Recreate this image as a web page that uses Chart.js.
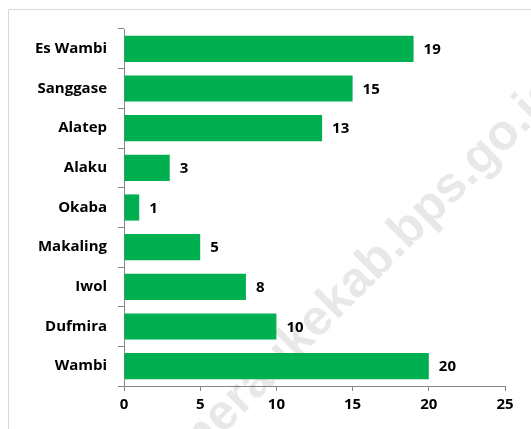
<!DOCTYPE html>
<html>
<head>
<meta charset="utf-8">
<script src="https://cdn.jsdelivr.net/npm/chart.js@4.4.1/dist/chart.umd.min.js"></script>
<style>
  html, body { margin: 0; padding: 0; background: #fff; }
  #wrap { position: relative; width: 531px; height: 429px; }
</style>
</head>
<body>
<div id="wrap"><canvas id="distrikChart" width="531" height="429"></canvas></div>
<script>
// ## DISTRIK BAR CHART ##

const districts = ["Es Wambi", "Sanggase", "Alatep", "Alaku", "Okaba", "Makaling", "Iwol", "Dufmira", "Wambi"];
const counts = [19, 15, 13, 3, 1, 5, 8, 10, 20];
const xTicks = [0, 5, 10, 15, 20, 25];
const watermarkText = "meraukekab.bps.go.id";

const axisColor = "#868686";
const labelFont = { family: "Open Sans", size: 15, weight: "bold" };

// outer frame + watermark (drawn under the bars)
const backdrop = {
  id: "backdrop",
  beforeDatasetsDraw(chart) {
    const ctx = chart.ctx;
    ctx.save();
    ctx.strokeStyle = "#d9d9d9";
    ctx.lineWidth = 1;
    ctx.beginPath();
    ctx.moveTo(8.5, 440);
    ctx.lineTo(8.5, 9.5);
    ctx.lineTo(540, 9.5);
    ctx.stroke();

    ctx.translate(368, 270);
    ctx.rotate(-Math.PI / 4);
    ctx.fillStyle = "rgba(0, 0, 0, 0.09)";
    ctx.font = "bold 50px 'Liberation Sans'";
    ctx.textAlign = "center";
    ctx.textBaseline = "middle";
    ctx.fillText(watermarkText, 0, 0);
    ctx.restore();
  },
};

// value labels at the end of each bar
const valueLabels = {
  id: "valueLabels",
  afterDatasetsDraw(chart) {
    const ctx = chart.ctx;
    const meta = chart.getDatasetMeta(0);
    ctx.save();
    ctx.fillStyle = "#000";
    ctx.font = "bold 15px 'Open Sans'";
    ctx.textAlign = "left";
    ctx.textBaseline = "middle";
    meta.data.forEach((bar, i) => {
      ctx.fillText(String(counts[i]), bar.x + 10, bar.y + 1);
    });
    ctx.restore();
  },
};

const ctx = document.getElementById("distrikChart").getContext("2d");

window.distrikChart = new Chart(ctx, {
  type: "bar",
  data: {
    labels: districts,
    datasets: [
      {
        label: "Jumlah",
        data: counts,
        backgroundColor: "#00B050",
        borderWidth: 0,
        categoryPercentage: 1,
        barPercentage: 0.66,
      },
    ],
  },
  options: {
    indexAxis: "y",
    responsive: false,
    animation: false,
    layout: {
      padding: { top: 29, right: 26, left: 0, bottom: 0 },
    },
    plugins: {
      legend: { display: false },
      tooltip: { enabled: false },
    },
    scales: {
      x: {
        min: 0,
        max: 25,
        afterBuildTicks: (scale) => {
          scale.ticks = xTicks.map((v) => ({ value: v }));
        },
        afterFit: (scale) => {
          scale.height = 43;
        },
        ticks: {
          color: "#000",
          font: labelFont,
          padding: 5,
        },
        grid: {
          drawOnChartArea: false,
          drawTicks: true,
          tickLength: 5,
          color: axisColor,
        },
        border: { display: true, color: axisColor },
      },
      y: {
        afterFit: (scale) => {
          scale.width = 124;
        },
        ticks: {
          color: "#000",
          font: labelFont,
          padding: 11,
        },
        grid: {
          offset: true,
          drawOnChartArea: false,
          drawTicks: true,
          tickLength: 6,
          color: axisColor,
        },
        border: { display: true, color: axisColor },
      },
    },
  },
  plugins: [backdrop, valueLabels],
});
</script>
</body>
</html>
